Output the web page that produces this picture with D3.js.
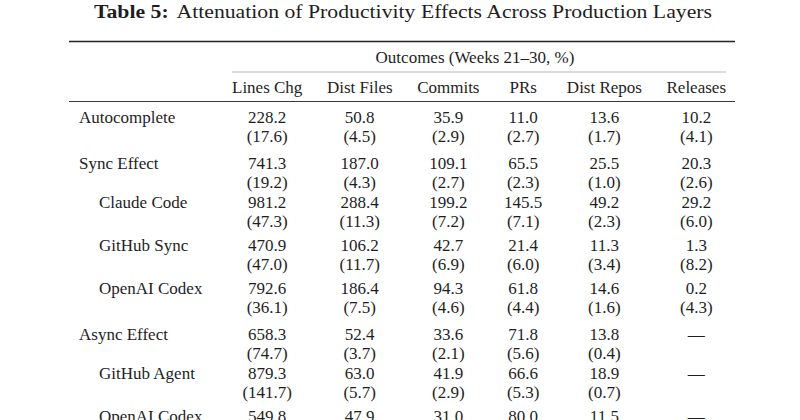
<!DOCTYPE html>
<html>
<head>
<meta charset="utf-8">
<script src="https://cdn.jsdelivr.net/npm/d3@7"></script>
<style>
  body { margin: 0; background: #fff; }
  text { fill: #1e1e1e; }
</style>
</head>
<body>
<div id="table"></div>
<script>
const titleBold = "Table 5:";
const titleText = "Attenuation of Productivity Effects Across Production Layers";
const spanner = "Outcomes (Weeks 21\u201330, %)";
const columns = ["Lines Chg", "Dist Files", "Commits", "PRs", "Dist Repos", "Releases"];
const rowLabels = ["Autocomplete", "Sync Effect", "Claude Code", "GitHub Sync", "OpenAI Codex",
                   "Async Effect", "GitHub Agent", "OpenAI Codex"];
const rowLevel = ["group", "group", "sub", "sub", "sub", "group", "sub", "sub"];
const coefs = [
    [228.2, 50.8, 35.9, 11.0, 13.6, 10.2],
    [741.3, 187.0, 109.1, 65.5, 25.5, 20.3],
    [981.2, 288.4, 199.2, 145.5, 49.2, 29.2],
    [470.9, 106.2, 42.7, 21.4, 11.3, 1.3],
    [792.6, 186.4, 94.3, 61.8, 14.6, 0.2],
    [658.3, 52.4, 33.6, 71.8, 13.8, null],
    [879.3, 63.0, 41.9, 66.6, 18.9, null],
    [549.8, 47.9, 31.0, 80.0, 11.5, null]
];
const ses = [
    [17.6, 4.5, 2.9, 2.7, 1.7, 4.1],
    [19.2, 4.3, 2.7, 2.3, 1.0, 2.6],
    [47.3, 11.3, 7.2, 7.1, 2.3, 6.0],
    [47.0, 11.7, 6.9, 6.0, 3.4, 8.2],
    [36.1, 7.5, 4.6, 4.4, 1.6, 4.3],
    [74.7, 3.7, 2.1, 5.6, 0.4, null],
    [141.7, 5.7, 2.9, 5.3, 0.7, null],
    [null, null, null, null, null, null]   // below the visible area
];

const width = 800, height = 420;
const font = "'Liberation Serif', 'Times New Roman', serif";
const size = 17;
const left = 69, right = 735;        // full rules
const spanLeft = 232, spanRight = 726; // rule under spanner
const labelX = 79, indent = 20;
const fmt = d3.format(".1f");

const svg = d3.select("#table")
              .append("svg")
                  .attr("width", width)
                  .attr("height", height)
                  .style("font-family", font);

svg.append("rect").attr("width", width).attr("height", height).attr("fill", "#fff");

/* measure helper */
const probe = svg.append("text").attr("font-size", size).attr("opacity", 0);
const measure = (s) => probe.text(s).node().getComputedTextLength();

/* column widths like a LaTeX tabular: widest entry, equal gaps */
const colWidths = columns.map((c, j) => {
    const cells = [c].concat(coefs.map(r => r[j] == null ? "\u2014" : fmt(r[j])))
                     .concat(ses.map(r => r[j] == null ? "" : "(" + fmt(r[j]) + ")"));
    return d3.max(cells, measure);
});
const gap = (spanRight - spanLeft - d3.sum(colWidths)) / (columns.length - 1);
let acc = spanLeft;
const centers = colWidths.map(w => { const c = acc + w / 2; acc += w + gap; return c; });
probe.remove();

const x = d3.scaleOrdinal().domain(columns).range(centers);

/* title, stretched to the reference width */
const title = svg.append("text")
                 .attr("x", 403)
                 .attr("y", 18)
                 .attr("text-anchor", "middle")
                 .attr("font-size", 19.5)
                 .attr("textLength", 618)
                 .attr("lengthAdjust", "spacingAndGlyphs");
title.append("tspan").attr("font-weight", "bold").text(titleBold);
title.append("tspan").attr("dx", 7).text(titleText);

/* rules */
const rule = (y, x1, x2, w, col) => svg.append("line")
    .attr("x1", x1).attr("x2", x2).attr("y1", y).attr("y2", y)
    .attr("stroke", col).attr("stroke-width", w);
rule(41.5, left, right, 1.4, "#222");
rule(72, spanLeft, spanRight, 0.7, "#999");
rule(101.5, left, right, 0.9, "#222");

/* headers */
svg.append("text")
   .attr("x", (spanLeft + spanRight) / 2 - 4)
   .attr("y", 63)
   .attr("text-anchor", "middle")
   .attr("font-size", size)
   .text(spanner);

svg.selectAll("text.head")
   .data(columns)
   .enter()
   .append("text")
       .attr("class", "head")
       .attr("x", d => x(d))
       .attr("y", 93)
       .attr("text-anchor", "middle")
       .attr("font-size", size)
       .text(d => d);

/* row baselines */
const lineStep = 19.5, subGap = 4, groupGap = 7;
const rowY = [];
rowLabels.forEach((r, i) => {
    if (i === 0) { rowY.push(122.5); return; }
    let y = rowY[i - 1] + lineStep * 2;
    if (rowLevel[i] === "group") y += groupGap;
    else if (rowLevel[i - 1] === "sub") y += subGap;
    rowY.push(y);
});

const rows = svg.selectAll("g.row")
                .data(rowLabels)
                .enter()
                .append("g")
                    .attr("class", "row")
                    .attr("font-size", size);

rows.append("text")
    .attr("x", (d, i) => labelX + (rowLevel[i] === "sub" ? indent : 0))
    .attr("y", (d, i) => rowY[i])
    .text(d => d);

rows.each(function(d, i) {
    const g = d3.select(this);
    g.selectAll("text.coef")
     .data(coefs[i])
     .enter()
     .append("text")
         .attr("class", "coef")
         .attr("x", (v, j) => x(columns[j]))
         .attr("y", rowY[i])
         .attr("text-anchor", "middle")
         .text(v => v == null ? "\u2014" : fmt(v));
    g.selectAll("text.se")
     .data(ses[i])
     .enter()
     .append("text")
         .attr("class", "se")
         .attr("x", (v, j) => x(columns[j]))
         .attr("y", rowY[i] + lineStep)
         .attr("text-anchor", "middle")
         .text(v => v == null ? "" : "(" + fmt(v) + ")");
});
</script>
</body>
</html>
